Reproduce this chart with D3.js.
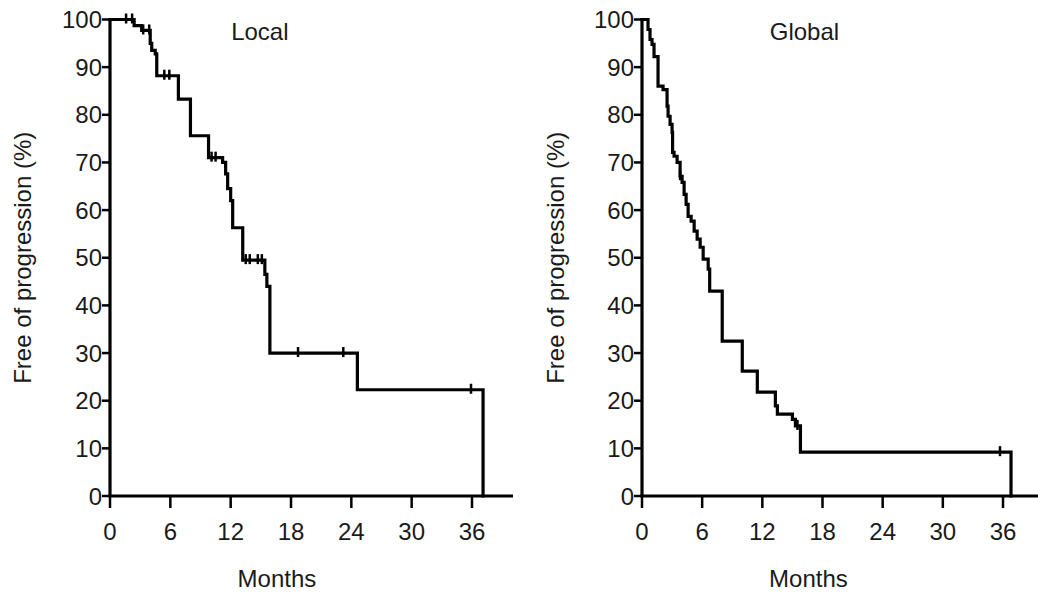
<!DOCTYPE html>
<html>
<head>
<meta charset="utf-8">
<script src="https://cdn.jsdelivr.net/npm/d3@7"></script>
<style>
  html, body { margin: 0; padding: 0; background: #fff; }
  svg { display: block; }
  text { font-family: "Liberation Sans", Arial, sans-serif; fill: #1a1a1a; }
</style>
</head>
<body>
<svg id="chart" width="1038" height="594"></svg>
<script>
// ---- Data ----
const xTicks = [0, 6, 12, 18, 24, 30, 36];
const yTicks = [0, 10, 20, 30, 40, 50, 60, 70, 80, 90, 100];

// Local progression: step times (months) and survival (%) after each step
const localTimes = [0, 2.4, 3.15, 4.0, 4.15, 4.5, 4.65, 6.8, 8.0, 9.8, 11.2, 11.5, 11.7, 12.0, 12.2, 13.2, 15.4, 15.6, 15.9, 24.6, 37.1];
const localSurv  = [100, 98.7, 97.7, 95.0, 93.5, 92.8, 88.2, 83.3, 75.6, 71.0, 70.0, 67.6, 64.5, 62.0, 56.3, 49.5, 46.5, 44.0, 30.0, 22.3, 0];
const localCensor = [1.6, 2.2, 3.3, 3.9, 5.4, 5.9, 10.1, 10.5, 13.5, 13.9, 14.7, 15.1, 18.7, 23.2, 35.9];

// Global progression
const globalTimes = [0, 0.6, 0.8, 1.0, 1.2, 1.6, 2.1, 2.5, 2.6, 2.8, 3.0, 3.05, 3.2, 3.5, 3.8, 4.0, 4.2, 4.4, 4.6, 4.9, 5.2, 5.5, 5.8, 6.1, 6.6, 6.75, 8.0, 10.0, 11.5, 13.3, 13.5, 15.0, 15.3, 15.8, 36.8];
const globalSurv  = [100, 97.9, 95.8, 94.8, 92.2, 86.0, 85.3, 81.8, 79.7, 78.0, 76.3, 72.1, 71.3, 70.0, 67.1, 65.8, 63.3, 61.2, 58.7, 57.7, 55.6, 53.9, 52.2, 49.7, 47.6, 43.0, 32.5, 26.2, 21.8, 18.9, 17.2, 16.1, 14.7, 9.2, 0];
const globalCensor = [3.8, 15.5, 35.7];

const panels = [
  { title: "Local",  times: localTimes,  surv: localSurv,  censor: localCensor,  x0: 110, x36: 472, xEnd: 513, titleM: 14.9, yLabelX: 31 },
  { title: "Global", times: globalTimes, surv: globalSurv, censor: globalCensor, x0: 642, x36: 1003, xEnd: 1038, titleM: 16.2, yLabelX: 564 }
];

const yTop = 19.5, yBottom = 496;
const svg = d3.select("#chart");
const FS = 24;

panels.forEach(p => {
  const x = d3.scaleLinear().domain([0, 36]).range([p.x0, p.x36]);
  const y = d3.scaleLinear().domain([0, 100]).range([yBottom, yTop]);
  const g = svg.append("g");

  // survival curve
  const pts = p.times.map((t, i) => [t, p.surv[i]]);
  const line = d3.line().x(d => x(d[0])).y(d => y(d[1])).curve(d3.curveStepAfter);
  g.append("path").attr("d", line(pts))
    .attr("fill", "none").attr("stroke", "#000").attr("stroke-width", 3.2)
    .attr("stroke-linejoin", "miter").attr("stroke-linecap", "square");

  // censor ticks
  const survAt = t => { let s = 100; p.times.forEach((tt, i) => { if (tt <= t) s = p.surv[i]; }); return s; };
  g.selectAll(".cens").data(p.censor).enter().append("line")
    .attr("x1", d => x(d)).attr("x2", d => x(d))
    .attr("y1", d => y(survAt(d)) - 6).attr("y2", d => y(survAt(d)) + 4)
    .attr("stroke", "#000").attr("stroke-width", 2.5);

  // axes lines
  const xMax = x.invert(p.xEnd);
  g.append("line").attr("x1", x(0) - 1.5).attr("x2", x(xMax)).attr("y1", y(0)).attr("y2", y(0))
    .attr("stroke", "#000").attr("stroke-width", 3.2);
  g.append("line").attr("x1", x(0)).attr("x2", x(0)).attr("y1", y(100) - 1.5).attr("y2", y(0))
    .attr("stroke", "#000").attr("stroke-width", 3.2);

  // x ticks
  g.selectAll(".xt").data(xTicks).enter().append("line")
    .attr("x1", d => x(d)).attr("x2", d => x(d)).attr("y1", y(0)).attr("y2", y(0) + 12)
    .attr("stroke", "#000").attr("stroke-width", 2.5);
  g.selectAll(".xl").data(xTicks).enter().append("text")
    .attr("x", d => x(d)).attr("y", 540).attr("text-anchor", "middle")
    .attr("font-size", FS).text(d => d);

  // y ticks
  g.selectAll(".yt").data(yTicks).enter().append("line")
    .attr("x1", x(0) - 8).attr("x2", x(0)).attr("y1", d => y(d)).attr("y2", d => y(d))
    .attr("stroke", "#000").attr("stroke-width", 2.5);
  g.selectAll(".yl").data(yTicks).enter().append("text")
    .attr("x", x(0) - 8).attr("y", d => y(d) + 8.5).attr("text-anchor", "end")
    .attr("font-size", FS).text(d => d);

  // titles and axis labels
  g.append("text").attr("x", x(p.titleM)).attr("y", 40).attr("text-anchor", "middle")
    .attr("font-size", FS).text(p.title);
  g.append("text").attr("x", x(16.6)).attr("y", 587).attr("text-anchor", "middle")
    .attr("font-size", FS).text("Months");
  g.append("text").attr("transform", `translate(${p.yLabelX},${(yTop + yBottom) / 2}) rotate(-90)`)
    .attr("text-anchor", "middle").attr("font-size", FS).text("Free of progression (%)");
});
</script>
</body>
</html>
